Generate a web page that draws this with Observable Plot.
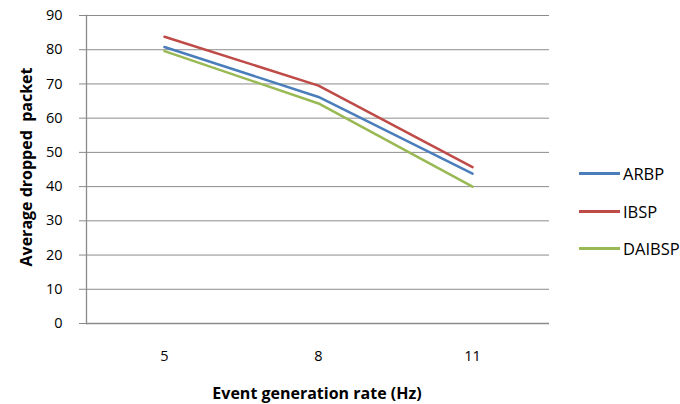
<!DOCTYPE html>
<html>
<head>
<meta charset="utf-8">
<script src="https://cdn.jsdelivr.net/npm/d3@7"></script>
<script src="https://cdn.jsdelivr.net/npm/@observablehq/plot@0.6"></script>
<style>
  html, body { margin: 0; padding: 0; background: #fff; }
  #wrap { position: relative; width: 680px; height: 404px; font-family: "Open Sans", sans-serif; color: #000; }
  #wrap svg { position: absolute; left: 0; top: 0; }
  .ytitle { position: absolute; left: 26px; top: 167px; transform: translate(-50%, -50%) rotate(-90deg); font-weight: bold; font-size: 16px; white-space: pre; }
  .xtitle { position: absolute; left: 317px; top: 393px; transform: translate(-50%, -50%); font-weight: bold; font-size: 16px; white-space: pre; }
  .legend { position: absolute; left: 579px; top: 155px; font-size: 16.5px; }
  .legend .item { display: flex; align-items: center; height: 37.5px; }
  .legend .sw { width: 41px; height: 3px; margin-right: 3px; }
</style>
</head>
<body>
<div id="wrap"></div>
<script>
const categories = ["5", "8", "11"];
const seriesNames = ["ARBP", "IBSP", "DAIBSP"];
const ARBP = [80.8, 66.2, 43.8];
const IBSP = [83.8, 69.5, 45.7];
const DAIBSP = [79.6, 64.3, 40.0];
const yTicks = [0, 10, 20, 30, 40, 50, 60, 70, 80, 90];
const colors = ["#4A7EBB", "#BE4B48", "#98B954"];
const xTitle = "Event generation rate (Hz)";
const yTitle = "Average dropped  packet";

const seriesValues = [ARBP, IBSP, DAIBSP];
const data = [];
seriesNames.forEach((s, i) => categories.forEach((c, j) => data.push({series: s, x: c, y: seriesValues[i][j]})));

const chart = Plot.plot({
  width: 680,
  height: 404,
  marginLeft: 86,
  marginRight: 131,
  marginTop: 15,
  marginBottom: 81,
  style: { fontFamily: "'Open Sans', sans-serif", fontSize: "14.5px", color: "#000", background: "transparent" },
  x: { type: "point", domain: categories, padding: 0.5 },
  y: { domain: [0, 90] },
  color: { domain: seriesNames, range: colors },
  marks: [
    Plot.ruleY(yTicks.filter(d => d > 0), { stroke: "#8c8c8c", strokeWidth: 1 }),
    Plot.ruleY([0], { stroke: "#8a8a8a", strokeWidth: 1.3 }),
    Plot.axisY({ ticks: yTicks, tickSize: 7, tickPadding: 17, stroke: "#8a8a8a", label: null, fontSize: 14.5 }),
    Plot.axisX({ tickSize: 0, tickPadding: 27, label: null, fontSize: 14.5 }),
    Plot.frame({ anchor: "left", stroke: "#8a8a8a", strokeWidth: 1.3 }),
    Plot.line(data, { x: "x", y: "y", z: "series", stroke: "series", strokeWidth: 2.5, curve: "linear" })
  ]
});
const wrap = document.getElementById("wrap");
wrap.appendChild(chart);

const yt = document.createElement("div"); yt.className = "ytitle"; yt.textContent = yTitle; wrap.appendChild(yt);
const xt = document.createElement("div"); xt.className = "xtitle"; xt.textContent = xTitle; wrap.appendChild(xt);
const lg = document.createElement("div"); lg.className = "legend";
seriesNames.forEach((s, i) => {
  const it = document.createElement("div"); it.className = "item";
  const sw = document.createElement("div"); sw.className = "sw"; sw.style.background = colors[i];
  const tx = document.createElement("span"); tx.textContent = s;
  it.appendChild(sw); it.appendChild(tx); lg.appendChild(it);
});
wrap.appendChild(lg);
</script>
</body>
</html>
